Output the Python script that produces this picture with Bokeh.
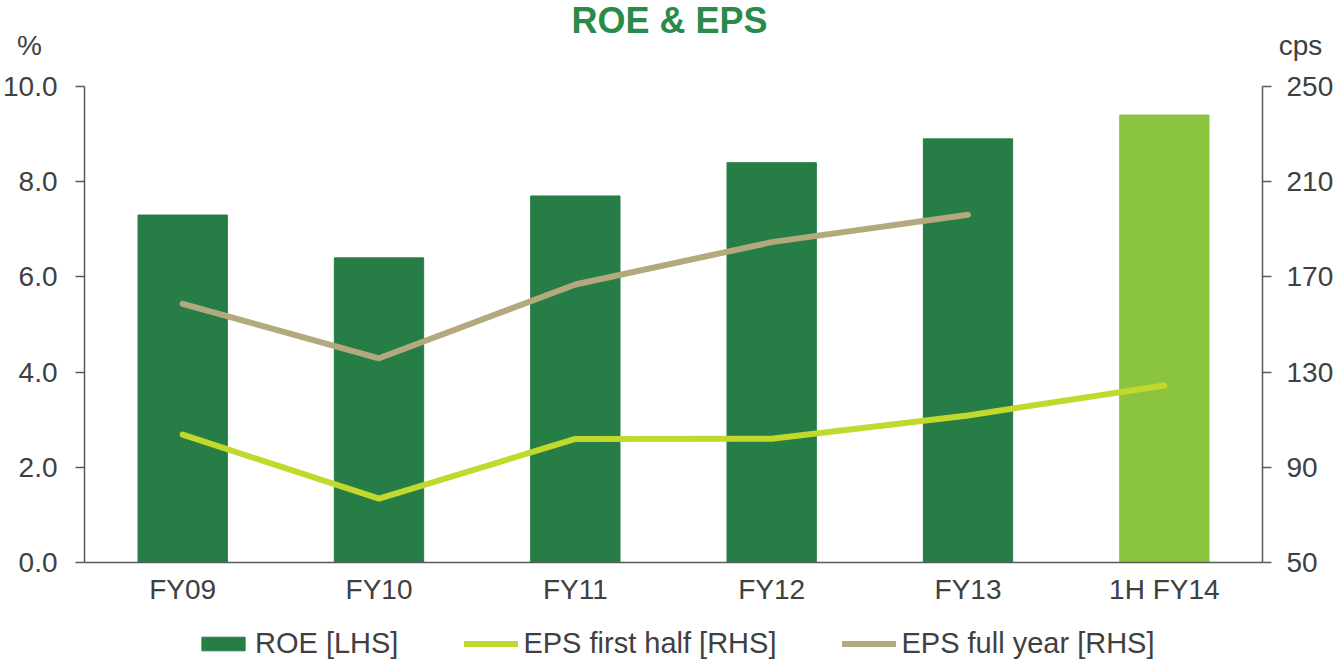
from bokeh.plotting import figure
from bokeh.models import (ColumnDataSource, Range1d, LinearAxis, FixedTicker,
                          NumeralTickFormatter, Legend, LegendItem, Label)
from bokeh.embed import file_html
from bokeh.resources import INLINE

# ---- data ----
categories = ["FY09", "FY10", "FY11", "FY12", "FY13", "1H FY14"]
roe = [7.3, 6.4, 7.7, 8.4, 8.9, 9.4]
eps_first_half = [103.7, 76.8, 101.9, 102.0, 111.8, 124.4]
eps_full_year_cats = ["FY09", "FY10", "FY11", "FY12", "FY13"]
eps_full_year = [158.7, 135.8, 166.8, 184.6, 196.1]
roe_ticks = [0, 2, 4, 6, 8, 10]
eps_ticks = [50, 90, 130, 170, 210, 250]

# ---- styles / layout ----
DARK = "#267E46"
LIGHT = "#8BC53F"
EPS_H1 = "#C2D82D"
EPS_FY = "#B4A97C"
TITLE_C = "#2A8A4A"
TXT = "#404040"
AXC = "#595959"
FONT = "Liberation Sans"
FS = "28px"

W, H = 1334, 660
AX_L, AX_R = 84, 1262      # pixel x of left / right value axes
TOP, BOT = 86, 562         # pixel y of top / bottom of value axes

ncat = len(categories)
roe_lo, roe_hi = roe_ticks[0], roe_ticks[-1]
eps_lo, eps_hi = eps_ticks[0], eps_ticks[-1]
u = (AX_R - AX_L) / ncat
x_start = -0.5 - AX_L / u
x_end = ncat - 0.5 + (W - AX_R) / u
k = (BOT - TOP) / (roe_hi - roe_lo)
y_start = roe_lo - (H - BOT) / k
y_end = roe_hi + TOP / k
f = (eps_hi - eps_lo) / (roe_hi - roe_lo)
eps_start = eps_lo + f * (y_start - roe_lo)
eps_end = eps_lo + f * (y_end - roe_lo)

idx = {c: i for i, c in enumerate(categories)}
src = ColumnDataSource(dict(
    x=[idx[c] for c in categories], roe=roe,
    color=[LIGHT if c.startswith("1H") else DARK for c in categories],
))

p = figure(x_range=Range1d(x_start, x_end), y_range=Range1d(y_start, y_end),
           width=W, height=H, output_backend="svg", toolbar_location=None,
           min_border=0, min_border_left=0, min_border_right=0,
           min_border_top=0, min_border_bottom=0)
p.extra_y_ranges = {"eps": Range1d(eps_start, eps_end)}
p.outline_line_color = None
p.xgrid.visible = False
p.ygrid.visible = False

bars = p.vbar(x="x", top="roe", width=0.455, fill_color="color", line_color="color", source=src)
l1 = p.line([idx[c] for c in categories], eps_first_half, y_range_name="eps",
            line_color=EPS_H1, line_width=6, line_cap="round", line_join="round")
l2 = p.line([idx[c] for c in eps_full_year_cats], eps_full_year, y_range_name="eps",
            line_color=EPS_FY, line_width=6, line_cap="round", line_join="round")

lax = p.yaxis[0]
lax.ticker = FixedTicker(ticks=roe_ticks)
lax.formatter = NumeralTickFormatter(format="0.0")
lax.fixed_location = -0.5
lax.bounds = (roe_lo, roe_hi)

rax = LinearAxis(y_range_name="eps", ticker=FixedTicker(ticks=eps_ticks),
                 fixed_location=ncat - 0.5, bounds=(eps_lo, eps_hi))
p.add_layout(rax, "right")

xax = p.xaxis[0]
xax.ticker = FixedTicker(ticks=list(range(ncat)))
xax.major_label_overrides = {i: c for i, c in enumerate(categories)}
xax.fixed_location = roe_lo
xax.bounds = (-0.5, ncat - 0.5)

for ax in [lax, rax, xax]:
    ax.axis_line_color = AXC
    ax.axis_line_width = 1.5
    ax.major_tick_line_color = AXC
    ax.major_tick_line_width = 1.5
    ax.major_tick_in = 0
    ax.major_tick_out = 9
    ax.minor_tick_line_color = None
    ax.major_label_text_font = FONT
    ax.major_label_text_font_size = FS
    ax.major_label_text_color = TXT
    ax.major_label_standoff = 15
lax.major_label_standoff = 18
xax.major_tick_out = 0
xax.major_tick_line_color = None
xax.major_label_standoff = 11

legend = Legend(items=[
    LegendItem(label="ROE [LHS]", renderers=[bars], index=0),
    LegendItem(label="EPS first half [RHS]", renderers=[l1]),
    LegendItem(label="EPS full year [RHS]", renderers=[l2]),
], orientation="horizontal", location=(196, 0), border_line_color=None,
    background_fill_alpha=0, label_text_font=FONT, label_text_font_size="29px",
    label_text_color=TXT, glyph_width=54, glyph_height=17, spacing=66,
    label_standoff=5, padding=0, margin=0)
p.add_layout(legend, "center")

p.add_layout(Label(x=669, y=H - 20, x_units="screen", y_units="screen", text="ROE & EPS",
                   text_align="center", text_baseline="middle", text_font=FONT,
                   text_font_size="36px", text_font_style="bold", text_color=TITLE_C))
p.add_layout(Label(x=29, y=H - 45, x_units="screen", y_units="screen", text="%",
                   text_align="center", text_baseline="middle",
                   text_font=FONT, text_font_size=FS, text_color=TXT))
p.add_layout(Label(x=1300, y=H - 45, x_units="screen", y_units="screen", text="cps",
                   text_align="center", text_baseline="middle",
                   text_font=FONT, text_font_size=FS, text_color=TXT))

open("out.html", "w").write(file_html(p, INLINE))
